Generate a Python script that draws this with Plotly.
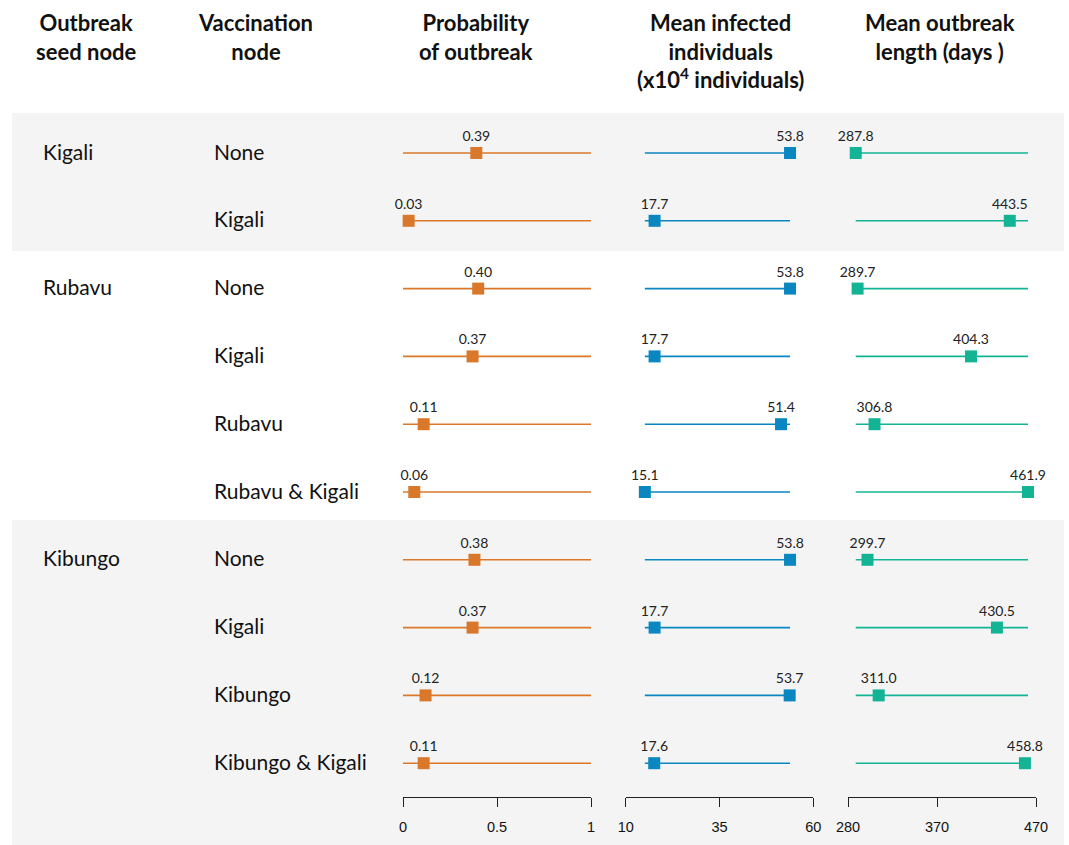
import plotly.graph_objects as go

# ---- data ---------------------------------------------------------------
seed_nodes = ["Kigali", "Rubavu", "Kibungo"]
seed_rows = [0, 2, 6]  # first row of each seed-node group
vaccination = ["None", "Kigali",
               "None", "Kigali", "Rubavu", "Rubavu & Kigali",
               "None", "Kigali", "Kibungo", "Kibungo & Kigali"]
prob_outbreak = [0.39, 0.03, 0.40, 0.37, 0.11, 0.06, 0.38, 0.37, 0.12, 0.11]
mean_infected = [53.8, 17.7, 53.8, 17.7, 51.4, 15.1, 53.8, 17.7, 53.7, 17.6]
mean_length = [287.8, 443.5, 289.7, 404.3, 306.8, 461.9, 299.7, 430.5, 311.0, 458.8]

prob_ticks = [0, 0.5, 1]
prob_ticktext = ["0", "0.5", "1"]
inf_ticks = [10, 35, 60]
len_ticks = [280, 370, 470]

# ---- canvas --------------------------------------------------------------
W, H = 1069, 845
TEXT_FONT = "Lato"
TICK_FONT = "Liberation Sans"
ORANGE, BLUE, TEAL = "#D9782B", "#0A86C0", "#13B495"
BAND = "#F4F4F4"


def px_x(p):
    return p / W


def px_y(p):
    return 1 - p / H


rows = list(range(len(vaccination)))
first_row_px, row_step_px = 153, 67.8
y_top = 0 - first_row_px / row_step_px
y_bot = (H - first_row_px) / row_step_px

fig = go.Figure()

panels = [
    ("x", prob_outbreak, ORANGE, (0, 1), "{:.2f}"),
    ("x2", mean_infected, BLUE, (min(mean_infected), max(mean_infected)), "{:.1f}"),
    ("x3", mean_length, TEAL, (min(mean_length), max(mean_length)), "{:.1f}"),
]

for axis, vals, color, (lo, hi), fmt in panels:
    lx, ly = [], []
    for r in rows:
        lx += [lo, hi, None]
        ly += [r, r, None]
    fig.add_trace(go.Scatter(
        x=lx, y=ly, xaxis=axis, yaxis="y", mode="lines",
        line=dict(color=color, width=1.6), hoverinfo="skip", showlegend=False,
    ))
    fig.add_trace(go.Scatter(
        x=vals, y=rows, xaxis=axis, yaxis="y", mode="markers+text",
        marker=dict(symbol="square", size=12, color=color),
        text=[fmt.format(v) for v in vals], textposition="top center",
        textfont=dict(family=TEXT_FONT, size=14, color="#222222"),
        cliponaxis=False, showlegend=False,
    ))

# shaded bands for the Kigali and Kibungo groups
fig.add_shape(type="rect", xref="paper", yref="paper", layer="below",
              x0=px_x(12), x1=px_x(1064), y0=px_y(251), y1=px_y(113),
              fillcolor=BAND, line_width=0)
fig.add_shape(type="rect", xref="paper", yref="paper", layer="below",
              x0=px_x(12), x1=px_x(1064), y0=0, y1=px_y(520),
              fillcolor=BAND, line_width=0)

# column headers
headers = [
    (86, "Outbreak<br>seed node"),
    (255, "Vaccination<br>node"),
    (476, "Probability<br>of outbreak"),
    (720, "Mean infected<br>individuals<br>(x10<sup>4</sup> individuals)"),
    (940, "Mean outbreak<br>length (days )"),
]
for xp, txt in headers:
    fig.add_annotation(
        x=px_x(xp), y=px_y(7), xref="paper", yref="paper",
        xanchor="center", yanchor="top", text=f"<b>{txt}</b>", showarrow=False,
        font=dict(family=TEXT_FONT, size=22, color="#111111"),
    )

# row labels
for name, r in zip(seed_nodes, seed_rows):
    fig.add_annotation(
        x=px_x(41), y=r, xref="paper", yref="y", xanchor="left", yanchor="middle",
        text=name, showarrow=False, yshift=2,
        font=dict(family=TEXT_FONT, size=21, color="#111111"),
    )
for r, name in zip(rows, vaccination):
    fig.add_annotation(
        x=px_x(212), y=r, xref="paper", yref="y", xanchor="left", yanchor="middle",
        text=name, showarrow=False, yshift=2,
        font=dict(family=TEXT_FONT, size=21, color="#111111"),
    )

axis_pos = px_y(797)
common_x = dict(
    anchor="free", position=axis_pos, showgrid=False, zeroline=False,
    showline=True, linecolor="#222222", linewidth=1.2,
    ticks="outside", ticklen=9, tickwidth=1.2, tickcolor="#222222",
    ticklabelstandoff=7,
    tickfont=dict(family=TICK_FONT, size=14.5, color="#111111"),
    fixedrange=True, automargin=False,
)

fig.update_layout(
    width=W, height=H, autosize=False,
    margin=dict(l=0, r=0, t=0, b=0, pad=0, autoexpand=False),
    paper_bgcolor="white", plot_bgcolor="rgba(0,0,0,0)",
    showlegend=False,
    xaxis=dict(domain=[px_x(403), px_x(591)], range=[0, 1],
               tickvals=prob_ticks, ticktext=prob_ticktext, **common_x),
    xaxis2=dict(domain=[px_x(625.7), px_x(813.3)], range=[10, 60],
                tickvals=inf_ticks, **common_x),
    xaxis3=dict(domain=[px_x(848), px_x(1036)], range=[280, 470],
                tickvals=len_ticks, **common_x),
    yaxis=dict(domain=[0, 1], range=[y_bot, y_top], visible=False,
               fixedrange=True),
)

fig.write_html(
    "out.html",
    config={"responsive": False, "displayModeBar": False},
    post_script="document.body.style.margin='0';document.body.style.overflow='hidden';",
)
